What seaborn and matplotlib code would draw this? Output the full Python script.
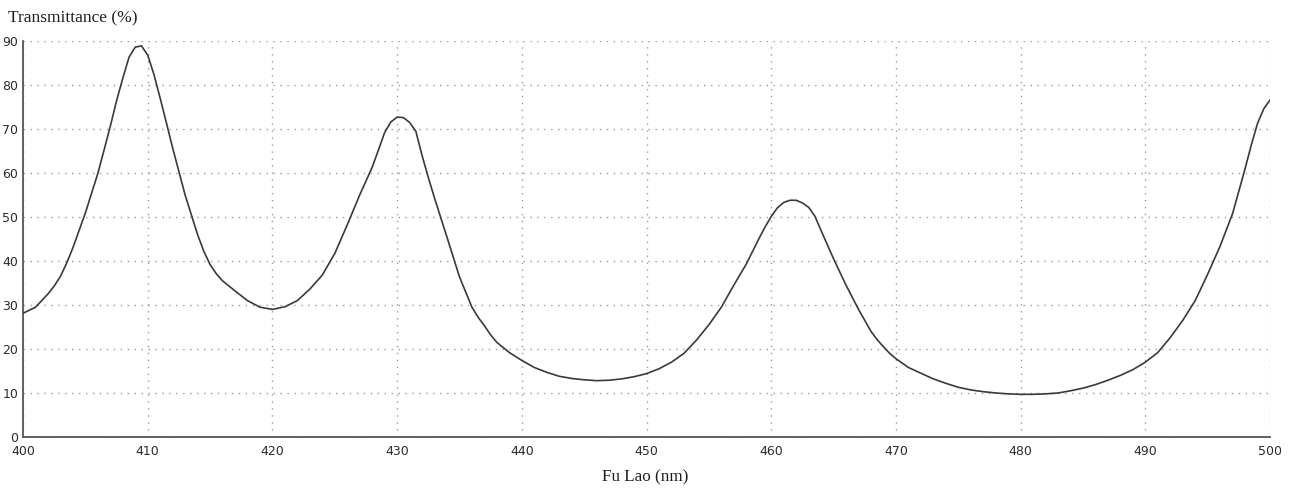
import matplotlib
matplotlib.use("Agg")
import matplotlib.pyplot as plt
from matplotlib.ticker import MultipleLocator
import seaborn as sns
import pandas as pd

# Transmission spectrum: 1 nm steps, 0.5 nm steps around peaks and bends
wavelength_nm = [
    400, 401, 402, 402.5, 403, 403.5, 404, 405, 406, 406.5, 407, 407.5, 408, 408.5,
    409, 409.5, 410, 410.5, 411, 411.5, 412, 413, 414, 414.5, 415, 415.5, 416, 417,
    418, 419, 420, 421, 422, 423, 424, 425, 426, 427, 428, 428.5,
    429, 429.5, 430, 430.5, 431, 431.5, 432, 432.5, 433, 434, 435, 436,
    436.5, 437, 437.5, 438, 439, 440, 441, 442, 443, 444, 445, 446, 447, 448,
    449, 450, 451, 452, 453, 454, 455, 456, 457, 458, 459, 459.5,
    460, 460.5, 461, 461.5, 462, 462.5, 463, 463.5, 464, 465, 466, 467,
    468, 468.5, 469, 469.5, 470, 471, 472, 473, 474, 475, 476, 477, 478, 479,
    480, 481, 482, 483, 484, 485, 486, 487, 488, 489, 490, 491,
    492, 493, 494, 495, 496, 497, 498, 498.5, 499, 499.5, 500,
]
transmittance_pct = [
    28.1, 29.5, 32.5, 34.3, 36.5, 39.5, 43.0, 50.9, 59.9, 65.2, 70.6, 76.4, 81.5, 86.3,
    88.6, 88.9, 86.8, 82.4, 77.0, 71.4, 65.7, 55.0, 46.0, 42.2, 39.2, 37.1, 35.5, 33.2,
    31.0, 29.5, 29.0, 29.6, 31.0, 33.6, 36.8, 41.7, 48.2, 55.0, 61.3, 65.2,
    69.2, 71.6, 72.7, 72.6, 71.5, 69.5, 64.0, 59.0, 54.3, 45.4, 36.4, 29.5,
    27.2, 25.3, 23.2, 21.5, 19.2, 17.4, 15.8, 14.7, 13.8, 13.3, 13.0, 12.8, 12.9, 13.2,
    13.7, 14.4, 15.5, 17.0, 19.0, 22.0, 25.5, 29.5, 34.5, 39.3, 45.0, 47.7,
    50.1, 52.1, 53.3, 53.8, 53.8, 53.2, 52.2, 50.2, 46.9, 40.5, 34.5, 29.0,
    24.0, 22.1, 20.5, 19.0, 17.8, 15.8, 14.5, 13.2, 12.2, 11.3, 10.7, 10.3, 10.0, 9.8,
    9.7, 9.7, 9.8, 10.0, 10.5, 11.1, 11.9, 12.9, 14.0, 15.3, 17.0, 19.2,
    22.6, 26.5, 31.0, 37.0, 43.4, 50.8, 61.0, 66.4, 71.3, 74.6, 76.6,
]

x_ticks = [400, 410, 420, 430, 440, 450, 460, 470, 480, 490, 500]
y_ticks = [0, 10, 20, 30, 40, 50, 60, 70, 80, 90]
y_title = "Transmittance (%)"
x_title = "Fu Lao (nm)"

df = pd.DataFrame({"wavelength": wavelength_nm, "transmittance": transmittance_pct})

sns.set_style("white")
plt.rcParams["font.family"] = ["DejaVu Sans"]

fig = plt.figure(figsize=(12.92, 4.91), dpi=100)
ax = fig.add_axes([0.0178, 0.110, 0.9652, 0.8065])

sns.lineplot(data=df, x="wavelength", y="transmittance", ax=ax,
             color="#3a3a3a", linewidth=1.2, zorder=3)

ax.set_xlim(400, 500)
ax.set_ylim(0, 90)
ax.set_xticks(x_ticks)
ax.set_yticks(y_ticks)
ax.xaxis.set_minor_locator(MultipleLocator(5))
ax.yaxis.set_minor_locator(MultipleLocator(5))

# dotted grid at the major ticks
ax.grid(True, which="major", color="#9a9a9a", linestyle=(0, (1, 4)), linewidth=1.0)
ax.set_axisbelow(True)

for side in ("top", "right"):
    ax.spines[side].set_visible(False)
for side in ("left", "bottom"):
    ax.spines[side].set_color("#555555")
    ax.spines[side].set_linewidth(1.3)

ax.tick_params(axis="both", which="major", direction="inout", length=5, width=1.1,
               color="#444444", labelsize=9, labelcolor="#2a2a2a")
ax.tick_params(axis="both", which="minor", direction="inout", length=5, width=1.1,
               color="#444444")
ax.tick_params(axis="x", which="major", pad=3)
ax.tick_params(axis="y", which="major", pad=1)

ax.set_xlabel("")
ax.set_ylabel("")
fig.text(0.0062, 0.962, y_title, family="Liberation Serif", fontsize=12.5,
         color="#1e1e1e", ha="left", va="center")
fig.text(0.4995, 0.027, x_title, family="Liberation Serif", fontsize=12.3,
         color="#1e1e1e", ha="center", va="center")

fig.savefig("out.png", dpi=100, facecolor="white")
